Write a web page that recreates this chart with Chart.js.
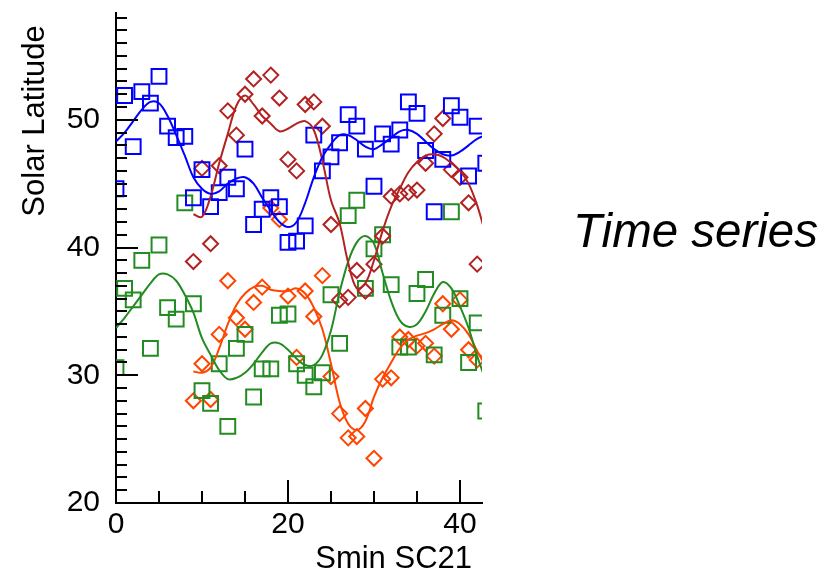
<!DOCTYPE html>
<html>
<head>
<meta charset="utf-8">
<script src="https://cdn.jsdelivr.net/npm/chart.js@4.4.0/dist/chart.umd.min.js"></script>
<style>
html,body{margin:0;padding:0;background:#fff;}
#wrap{position:relative;width:840px;height:574px;}
</style>
</head>
<body>
<div id="wrap"><canvas id="c" width="840" height="574"></canvas></div>
<script>
// ---- data ----
const xValues = [0,1,2,3,4,5,6,7,8,9,10,11,12,13,14,15,16,17,18,19,20,21,22,23,24,25,26,27,28,29,30,31,32,33,34,35,36,37,38,39,40,41,42,43];

const blueLatitude = [44.6,51.9,47.9,52.2,51.3,53.4,49.5,48.6,48.7,43.9,
  46.1,43.2,44.3,45.5,44.6,47.7,41.8,43.0,43.9,43.2,
  40.4,40.5,41.7,48.8,46.0,47.1,48.2,50.4,49.5,47.7,
  44.8,48.9,48.1,49.2,51.4,50.5,47.6,42.8,46.9,51.1,
  50.2,45.6,49.5,46.6];

const brownLatitude = [null,null,null,null,null,null,null,null,null,38.9,
  46.2,40.3,46.4,50.7,48.8,52.0,53.2,50.3,53.5,51.7,
  46.9,46.0,51.2,51.4,49.5,41.8,35.9,36.1,38.2,36.6,
  38.7,40.9,44.0,44.2,44.3,44.5,46.6,48.9,50.1,46.1,
  45.5,43.5,38.7,null];

const greenLatitude = [30.6,36.8,35.9,39.0,32.1,40.2,35.3,34.4,43.5,35.6,
  28.8,27.8,30.9,26.0,32.1,33.2,28.3,30.5,30.5,34.7,
  34.8,30.9,30.0,29.1,30.2,36.3,32.5,42.5,43.7,36.8,
  39.9,41.0,37.1,32.2,32.2,36.4,37.5,31.6,34.7,42.8,
  36.0,31.0,34.1,27.2];

const orangeLatitude = [null,null,null,null,null,null,null,null,null,28.0,
  30.9,28.1,33.2,37.4,34.5,33.6,35.7,36.9,43.1,42.2,
  36.2,31.4,36.6,34.6,37.8,29.9,27.0,25.1,25.2,27.4,
  23.5,29.7,29.8,33.0,32.8,32.3,32.5,31.5,35.6,33.6,
  35.9,32.0,31.2,null];

const blueTrend = [48.3,49.0,49.9,50.8,51.4,51.3,50.3,48.8,47.2,45.5,
  44.6,44.2,44.4,45.0,45.4,45.5,45.0,43.9,42.9,42.0,
  41.6,42.0,43.5,45.5,47.1,48.1,48.8,48.8,48.4,47.9,
  47.7,48.1,48.6,49.1,49.2,48.9,48.3,47.7,47.3,47.2,
  47.5,48.0,48.5,48.8];

const brownTrend = [null,null,null,null,null,null,null,null,null,42.6,
  42.4,44.0,46.6,48.9,51.1,51.9,51.2,50.3,49.7,49.1,
  49.3,49.7,49.9,49.2,46.8,43.7,41.9,38.8,36.8,37.2,
  39.0,41.3,43.2,44.6,45.9,46.7,47.2,47.3,47.1,46.6,
  46.0,45.0,43.3,41.0];

const greenTrend = [33.7,34.5,35.4,36.3,37.2,37.9,37.9,37.4,36.3,34.9,
  32.9,31.6,30.4,29.7,29.8,30.2,30.9,31.8,32.5,32.5,
  32.0,31.3,30.8,30.8,31.6,33.5,36.5,38.9,40.4,40.9,
  40.3,38.0,35.8,34.3,33.8,34.0,35.0,36.4,37.3,36.8,
  35.4,33.7,31.5,29.6];

const orangeTrend = [null,null,null,null,null,null,null,null,null,30.3,
  30.2,30.6,32.1,34.0,35.5,36.4,36.9,37.0,36.7,36.6,
  36.6,36.8,36.4,35.3,33.6,30.9,27.9,26.2,25.7,26.4,
  28.3,29.8,31.0,32.1,32.8,33.1,33.3,33.6,34.0,34.3,
  34.0,33.2,31.9,30.7];

const xTickLabels = [0, 20, 40];
const yTickLabels = [20, 30, 40, 50];
const xTitle = 'Smin SC21';
const yTitle = 'Solar Latitude';
const sideLabel = 'Time series';

// ---- helpers ----
const pts = ys => xValues.map((x, i) => ({x: x, y: ys[i]})).filter(p => p.y !== null);
const FONT = '"Liberation Sans", Arial, Helvetica, sans-serif';
const C_BLUE = '#0000FF', C_BROWN = '#B22222', C_GREEN = '#228B22', C_ORANGE = '#FF4500';

function markers(ys, color, style, r) {
  return {type: 'scatter', data: pts(ys), showLine: false, pointStyle: style,
    pointRadius: r, pointHoverRadius: r, pointBorderWidth: 2, borderColor: color,
    pointBorderColor: color, backgroundColor: 'rgba(0,0,0,0)', pointBackgroundColor: 'rgba(0,0,0,0)',
    clip: 0, order: 2};
}
function trend(ys, color) {
  return {type: 'scatter', data: pts(ys), showLine: true, pointRadius: 0, pointHoverRadius: 0,
    borderColor: color, borderWidth: 2, tension: 0.35, fill: false, clip: 0, order: 1};
}

const tickPlugin = {
  id: 'tickMarks',
  afterDraw(chart) {
    const ctx = chart.ctx, xs = chart.scales.x, ys = chart.scales.y;
    const L = chart.chartArea.left, B = chart.chartArea.bottom;
    ctx.save();
    ctx.strokeStyle = '#000';
    ctx.lineWidth = 2;
    ctx.beginPath();
    for (let v = 21; v <= 58; v++) {
      const py = Math.round(ys.getPixelForValue(v));
      const len = (v % 10 === 0) ? 22 : 11;
      ctx.moveTo(L, py); ctx.lineTo(L + len, py);
    }
    for (let v = 5; v <= 40; v += 5) {
      const px = Math.round(xs.getPixelForValue(v));
      const len = (v % 20 === 0) ? 23 : 12;
      ctx.moveTo(px, B); ctx.lineTo(px, B - len);
    }
    ctx.stroke();
    // texts
    ctx.fillStyle = '#000';
    ctx.font = '31px ' + FONT;
    ctx.textBaseline = 'alphabetic';
    ctx.textAlign = 'right';
    ctx.fillText(xTitle, 472, 568);
    ctx.save();
    ctx.translate(44, 121);
    ctx.rotate(-Math.PI / 2);
    ctx.textAlign = 'center';
    ctx.fillText(yTitle, 0, 0);
    ctx.restore();
    ctx.font = 'italic 47.5px ' + FONT;
    ctx.textAlign = 'left';
    ctx.fillText(sideLabel, 573, 246.5);
    ctx.restore();
  }
};

new Chart(document.getElementById('c'), {
  type: 'scatter',
  data: {
    datasets: [
      trend(blueTrend, C_BLUE),
      trend(brownTrend, C_BROWN),
      trend(greenTrend, C_GREEN),
      trend(orangeTrend, C_ORANGE),
      markers(blueLatitude, C_BLUE, 'rect', 10.5),
      markers(brownLatitude, C_BROWN, 'rectRot', 7.5),
      markers(greenLatitude, C_GREEN, 'rect', 10.5),
      markers(orangeLatitude, C_ORANGE, 'rectRot', 7.5)
    ]
  },
  options: {
    responsive: false,
    animation: false,
    devicePixelRatio: 1,
    layout: {padding: {left: 0, top: 8, right: 358, bottom: 0}},
    plugins: {legend: {display: false}, tooltip: {enabled: false}, title: {display: false}},
    events: [],
    scales: {
      x: {
        type: 'linear', min: 0, max: 42.56,
        afterBuildTicks: s => { s.ticks = xTickLabels.map(v => ({value: v})); },
        afterFit: s => { s.height = 71; s.paddingLeft = 0; s.paddingRight = 0; },
        grid: {display: false, drawTicks: false},
        border: {display: true, color: '#000', width: 2},
        ticks: {color: '#000', font: {family: FONT, size: 30}, padding: 4, maxRotation: 0, autoSkip: false}
      },
      y: {
        type: 'linear', min: 20, max: 58.4,
        afterBuildTicks: s => { s.ticks = yTickLabels.map(v => ({value: v})); },
        afterFit: s => { s.width = 116; s.paddingTop = 0; s.paddingBottom = 0; },
        grid: {display: false, drawTicks: false},
        border: {display: true, color: '#000', width: 2},
        ticks: {color: '#000', font: {family: FONT, size: 30}, padding: 16, autoSkip: false}
      }
    }
  },
  plugins: [tickPlugin]
});
</script>
</body>
</html>
